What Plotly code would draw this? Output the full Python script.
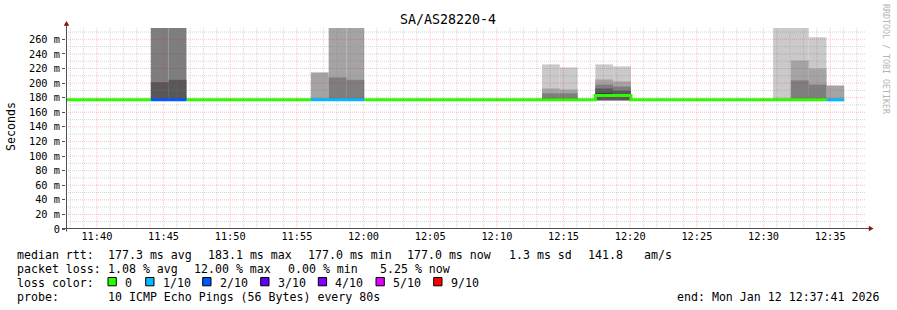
import plotly.graph_objects as go
import pandas as pd

# ---------------- data ----------------
STEP_S = 80
step_start = pd.date_range("2026-01-12 11:37:23", periods=44, freq="80s")
x_start = pd.Timestamp("2026-01-12 11:37:41")
x_end = pd.Timestamp("2026-01-12 12:37:41")

median_rtt = [
    177.0, 177.0, 177.0, 177.0, 177.0,
    177.0, 177.0, 177.0, 177.0, 177.0, 177.0, 177.0, 177.0, 177.0, 177.0,
    177.0, 177.0, 177.0, 177.0, 177.0, 177.0, 177.0, 177.0, 177.0, 177.0,
    177.0, 177.0, 177.0, 177.0, 177.0, 183.0, 183.1, 177.0, 177.0, 177.0,
    177.0, 177.0, 177.0, 177.0, 177.0, 177.0, 177.0, 177.0, 177.0,
]
loss_count = [
    0, 0, 0, 0, 0,
    2, 2, 0, 0, 0, 0, 0, 0, 0, 1,
    1, 1, 0, 0, 0, 0, 0, 0, 0, 0,
    0, 0, 0, 0, 0, 0, 0, 0, 0, 0,
    0, 0, 0, 0, 0, 0, 0, 0, 1,
]

loss_levels = [0, 1, 2, 3, 4, 5, 9]
loss_labels = ["0", "1/10", "2/10", "3/10", "4/10", "5/10", "9/10"]
loss_colors = ["#26ff00", "#00b8ff", "#0059ff", "#5e00ff", "#7e00ff", "#dd00ff", "#ff0000"]

# smoke (ping spread) bands, outermost (lightest) to innermost (darkest)
smoke_idx = [5, 6, 14, 15, 16, 27, 28, 30, 31, 40, 41, 42, 43]
band_colors = ["#cacaca", "#a4a4a4", "#7e7e7e", "#585858", "#323232"]
band_lo = [
    [None, None, None, None, None, 176.4, 176.4, 176.0, 176.0, 176.5, 176.5, 176.5, None],
    [None, None, 176.5, 176.5, 176.5, 176.6, 176.6, 176.2, 176.2, None, 176.6, 176.6, 176.5],
    [176.5, 176.5, None, 176.7, 176.7, 176.8, 176.8, 176.4, 176.4, None, 176.8, 176.8, None],
    [176.7, 176.7, None, None, None, 177.0, 177.0, 176.6, 176.6, None, None, None, None],
    [None, None, None, None, None, None, None, 181.5, 181.5, None, None, None, None],
]
band_hi = [
    [None, None, None, None, None, 225.6, 221.5, 225.6, 222.8, 290, 290, 262.7, None],
    [None, None, 214.6, 290, 290, 192.6, 191.2, 205.0, 202.2, None, 231.0, 220.0, 196.7],
    [290, 290, None, 207.7, 204.5, 186.0, 186.0, 198.0, 195.3, None, 203.6, 198.0, None],
    [201.2, 204.5, None, None, None, 179.5, 179.3, 192.6, 189.8, None, None, None, None],
    [None, None, None, None, None, None, None, 186.0, 185.0, None, None, None, None],
]

y_tick_vals = [0, 20, 40, 60, 80, 100, 120, 140, 160, 180, 200, 220, 240, 260]
y_tick_text = ["0", "20 m", "40 m", "60 m", "80 m", "100 m", "120 m", "140 m",
               "160 m", "180 m", "200 m", "220 m", "240 m", "260 m"]
y_max = 275.5

title_text = "SA/AS28220-4"
stat_rtt = ["median rtt:", "177.3 ms avg", "183.1 ms max", "177.0 ms min",
            "177.0 ms now", "1.3 ms sd", "141.8", "am/s"]
stat_loss = ["packet loss:", "1.08 % avg", "12.00 % max", "0.00 % min", "5.25 % now"]
probe_text = ["probe:", "10 ICMP Echo Pings (56 Bytes) every 80s"]
end_text = "end: Mon Jan 12 12:37:41 2026"

# ---------------- layout geometry ----------------
W, H = 897, 310
L, R, T, B = 66, 31, 28, 81
PW, PH = W - L - R, H - T - B
MONO = "DejaVu Sans Mono"


def px(x):
    return (x - L) / PW


def py(y):
    return (H - B - y) / PH


fig = go.Figure()
step = pd.Timedelta(seconds=STEP_S)

# smoke bands
for lvl in range(5):
    xs, bases, heights = [], [], []
    for j, i in enumerate(smoke_idx):
        lo, hi = band_lo[lvl][j], band_hi[lvl][j]
        if lo is None or hi is None:
            continue
        xs.append(step_start[i] + step / 2)
        bases.append(lo)
        heights.append(hi - lo)
    fig.add_trace(go.Bar(x=xs, y=heights, base=bases, width=STEP_S * 1000,
                         marker=dict(color=band_colors[lvl], line=dict(width=0)),
                         hoverinfo="skip", showlegend=False))

# median line coloured by loss
for lv, col in zip(loss_levels, loss_colors):
    xs, ys = [], []
    prev = False
    for i, (m, lc) in enumerate(zip(median_rtt, loss_count)):
        if lc == lv:
            if not prev and xs:
                xs.append(None)
                ys.append(None)
            xs += [step_start[i], step_start[i] + step]
            ys += [m, m]
            prev = True
        else:
            prev = False
    if xs:
        fig.add_trace(go.Scatter(x=xs, y=ys, mode="lines",
                                 line=dict(color=col, width=3),
                                 hoverinfo="skip", showlegend=False, connectgaps=False))

shapes = []
MAJ = "rgba(255,0,0,0.24)"
MIN = "rgba(128,128,128,0.32)"
# grid lines (drawn on top like rrdtool)
t = pd.Timestamp("2026-01-12 11:38:00")
while t < x_end:
    major = (t.minute % 5 == 0)
    shapes.append(dict(type="line", xref="x", yref="paper", x0=t, x1=t, y0=0, y1=1,
                       line=dict(color=MAJ if major else MIN, width=1, dash="1px,1px"),
                       layer="above"))
    t += pd.Timedelta(minutes=1)
for v in range(10, 280, 10):
    if v > y_max:
        break
    major = (v % 20 == 0)
    shapes.append(dict(type="line", xref="paper", yref="y", x0=0, x1=1, y0=v, y1=v,
                       line=dict(color=MAJ if major else MIN, width=1, dash="1px,1px"),
                       layer="above"))

# axis lines and arrows
AX = "#505050"
shapes.append(dict(type="line", xref="paper", yref="paper", x0=px(62), x1=px(869),
                   y0=py(228.5), y1=py(228.5), line=dict(color=AX, width=1), layer="above"))
shapes.append(dict(type="line", xref="paper", yref="paper", x0=px(66.5), x1=px(66.5),
                   y0=py(231.5), y1=py(25), line=dict(color=AX, width=1), layer="above"))
ARROW = "#8b1010"
shapes.append(dict(type="path", xref="paper", yref="paper",
                   path=f"M {px(63.7)},{py(25.8)} L {px(69.3)},{py(25.8)} L {px(66.5)},{py(21)} Z",
                   fillcolor=ARROW, line=dict(width=0), layer="above"))
shapes.append(dict(type="path", xref="paper", yref="paper",
                   path=f"M {px(868.8)},{py(225.7)} L {px(868.8)},{py(231.3)} L {px(873.5)},{py(228.5)} Z",
                   fillcolor=ARROW, line=dict(width=0), layer="above"))

annotations = []


def text(x, y, s, size=11.6, color="black", xanchor="left", angle=0):
    annotations.append(dict(x=px(x), y=py(y), xref="paper", yref="paper", text=s,
                            showarrow=False, xanchor=xanchor, yanchor="middle",
                            textangle=angle, borderpad=0,
                            font=dict(family=MONO, size=size, color=color)))


text(448, 19, title_text, size=13.3, xanchor="center")
text(11, 126, "Seconds", xanchor="center", angle=-90)
text(886, 59, "RRDTOOL / TOBI OETIKER", size=8.3, color="#b4b4b4", xanchor="center", angle=90)

row_y = [255.3, 269.0, 283.0, 296.8]
rtt_x = [16, 107.3, 207.3, 306.7, 406.3, 507.7, 586.7, 642.7]
for x, s in zip(rtt_x, stat_rtt):
    text(x, row_y[0], s)
loss_x = [16, 107.3, 193.3, 286.7, 379.3]
for x, s in zip(loss_x, stat_loss):
    text(x, row_y[1], s)
text(16, row_y[2], "loss color:")
box_x = [108, 145.7, 202.7, 260.7, 318.3, 376, 433.7]
for bx, lab, col in zip(box_x, loss_labels, loss_colors):
    shapes.append(dict(type="rect", xref="paper", yref="paper",
                       x0=px(bx), x1=px(bx + 8.3), y0=py(285.8), y1=py(277.5),
                       fillcolor=col, line=dict(color="black", width=1), layer="above"))
    text(bx + 16, row_y[2], lab)
text(16, row_y[3], probe_text[0])
text(107.3, row_y[3], probe_text[1])
text(880, row_y[3], end_text, xanchor="right")

major_ticks = pd.date_range("2026-01-12 11:40", "2026-01-12 12:35", freq="5min")

fig.update_layout(
    width=W, height=H,
    margin=dict(l=L, r=R, t=T, b=B, pad=0),
    paper_bgcolor="white", plot_bgcolor="white",
    barmode="overlay", showlegend=False,
    shapes=shapes, annotations=annotations,
    font=dict(family=MONO, size=10.3, color="black"),
    xaxis=dict(range=[x_start, x_end], type="date", showgrid=False, zeroline=False,
               showline=False, tickvals=list(major_ticks),
               ticktext=[d.strftime("%H:%M") for d in major_ticks],
               ticks="", ticklen=0,
               tickfont=dict(family=MONO, size=10.3, color="black"), fixedrange=True),
    yaxis=dict(range=[0, y_max], showgrid=False, zeroline=False, showline=False,
               tickvals=y_tick_vals, ticktext=y_tick_text,
               ticks="outside", ticklen=3, tickcolor=AX, tickwidth=1,
               tickfont=dict(family=MONO, size=10.3, color="black"), fixedrange=True),
)

fig.write_html("out.html")
